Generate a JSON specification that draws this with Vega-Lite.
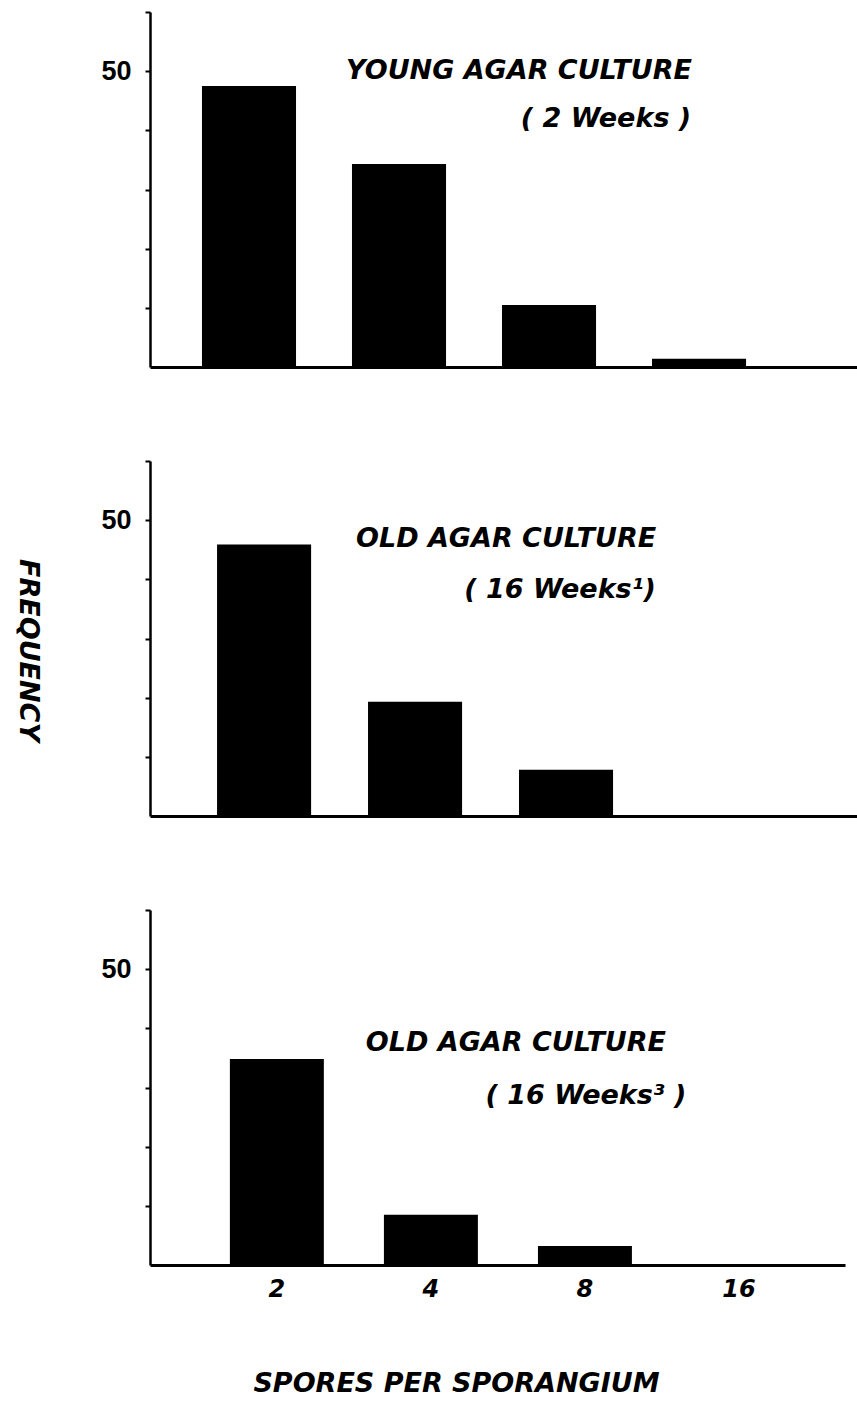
{
  "$schema": "https://vega.github.io/schema/vega-lite/v6.json",
  "background": "white",
  "padding": {"left": 12, "top": 11, "right": 0, "bottom": 5},
  "spacing": 93,
  "config": {
    "view": {"stroke": null},
    "axis": {"domainColor": "black", "tickColor": "black", "grid": false, "labelColor": "black", "titleColor": "black"},
    "axisY": {"domainWidth": 2.5, "tickWidth": 2, "tickSize": 5, "labelPadding": 14, "labelFont": "Liberation Sans", "labelFontWeight": "bold", "labelFontSize": 27},
    "axisX": {"domainWidth": 3, "ticks": false}
  },
  "vconcat": [
    {
      "width": 707, "height": 355,
      "layer": [
        {
          "data": {"values": [
            {"spores": "2", "frequency": 47.5},
            {"spores": "4", "frequency": 34.3},
            {"spores": "8", "frequency": 10.5},
            {"spores": "16", "frequency": 1.4}
          ]},
          "mark": {"type": "bar", "color": "black"},
          "encoding": {
            "x": {"field": "spores", "type": "ordinal", "sort": ["2", "4", "8", "16"],
                  "scale": {"paddingInner": 0.373, "paddingOuter": 0.543, "align": 0.319},
                  "axis": {"labels": false, "title": null}},
            "y": {"field": "frequency", "type": "quantitative",
                  "scale": {"domain": [0, 60], "nice": false},
                  "axis": {"values": [10, 20, 30, 40, 50, 60], "labelExpr": "datum.value == 50 ? '50' : ''", "title": null, "minExtent": 138, "maxExtent": 138}}
          }
        },
        {
          "data": {"values": [{"label": "YOUNG AGAR CULTURE"}]},
          "mark": {"type": "text", "font": "DejaVu Sans", "fontWeight": "bold", "fontStyle": "italic", "fontSize": 27, "align": "center", "baseline": "middle", "dx": 120, "color": "black"},
          "encoding": {"text": {"field": "label"}, "x": {"datum": "4", "type": "ordinal"}, "y": {"datum": 50, "type": "quantitative"}}
        },
        {
          "data": {"values": [{"label": "( 2 Weeks )"}]},
          "mark": {"type": "text", "font": "DejaVu Sans", "fontWeight": "bold", "fontStyle": "italic", "fontSize": 27, "align": "center", "baseline": "middle", "dx": 207, "color": "black"},
          "encoding": {"text": {"field": "label"}, "x": {"datum": "4", "type": "ordinal"}, "y": {"datum": 42, "type": "quantitative"}}
        }
      ]
    },
    {
      "width": 707, "height": 355,
      "layer": [
        {
          "data": {"values": [
            {"spores": "2", "frequency": 45.9},
            {"spores": "4", "frequency": 19.3},
            {"spores": "8", "frequency": 7.8},
            {"spores": "16", "frequency": 0}
          ]},
          "mark": {"type": "bar", "color": "black"},
          "encoding": {
            "x": {"field": "spores", "type": "ordinal", "sort": ["2", "4", "8", "16"],
                  "scale": {"paddingInner": 0.377, "paddingOuter": 0.53, "align": 0.419},
                  "axis": {"labels": false, "title": null}},
            "y": {"field": "frequency", "type": "quantitative",
                  "scale": {"domain": [0, 60], "nice": false},
                  "axis": {"values": [10, 20, 30, 40, 50, 60], "labelExpr": "datum.value == 50 ? '50' : ''", "title": "FREQUENCY", "titleAngle": 90, "titleFont": "DejaVu Sans", "titleFontWeight": "bold", "titleFontStyle": "italic", "titleFontSize": 27, "titlePadding": 103, "titleY": 189, "minExtent": 34, "maxExtent": 34}}
          }
        },
        {
          "data": {"values": [{"label": "OLD AGAR CULTURE"}]},
          "mark": {"type": "text", "font": "DejaVu Sans", "fontWeight": "bold", "fontStyle": "italic", "fontSize": 27, "align": "center", "baseline": "middle", "dx": 91, "color": "black"},
          "encoding": {"text": {"field": "label"}, "x": {"datum": "4", "type": "ordinal"}, "y": {"datum": 46.8, "type": "quantitative"}}
        },
        {
          "data": {"values": [{"label": "( 16 Weeks¹)"}]},
          "mark": {"type": "text", "font": "DejaVu Sans", "fontWeight": "bold", "fontStyle": "italic", "fontSize": 27, "align": "center", "baseline": "middle", "dx": 145, "color": "black"},
          "encoding": {"text": {"field": "label"}, "x": {"datum": "4", "type": "ordinal"}, "y": {"datum": 38.2, "type": "quantitative"}}
        }
      ]
    },
    {
      "width": 695, "height": 355,
      "layer": [
        {
          "data": {"values": [
            {"spores": "2", "frequency": 34.8},
            {"spores": "4", "frequency": 8.5},
            {"spores": "8", "frequency": 3.2},
            {"spores": "16", "frequency": 0}
          ]},
          "mark": {"type": "bar", "color": "black"},
          "encoding": {
            "x": {"field": "spores", "type": "ordinal", "sort": ["2", "4", "8", "16"],
                  "scale": {"paddingInner": 0.39, "paddingOuter": 0.451, "align": 0.575},
                  "axis": {"labelAngle": 0, "labelPadding": 12, "labelFont": "DejaVu Sans", "labelFontWeight": "bold", "labelFontStyle": "italic", "labelFontSize": 24,
                           "title": "SPORES PER SPORANGIUM", "titleFont": "DejaVu Sans", "titleFontWeight": "bold", "titleFontStyle": "italic", "titleFontSize": 27, "titleX": 306, "titleY": 105, "titleBaseline": "top"}},
            "y": {"field": "frequency", "type": "quantitative",
                  "scale": {"domain": [0, 60], "nice": false},
                  "axis": {"values": [10, 20, 30, 40, 50, 60], "labelExpr": "datum.value == 50 ? '50' : ''", "title": null, "minExtent": 138, "maxExtent": 138}}
          }
        },
        {
          "data": {"values": [{"label": "OLD AGAR CULTURE"}]},
          "mark": {"type": "text", "font": "DejaVu Sans", "fontWeight": "bold", "fontStyle": "italic", "fontSize": 27, "align": "center", "baseline": "middle", "dx": 85, "color": "black"},
          "encoding": {"text": {"field": "label"}, "x": {"datum": "4", "type": "ordinal"}, "y": {"datum": 37.5, "type": "quantitative"}}
        },
        {
          "data": {"values": [{"label": "( 16 Weeks³ )"}]},
          "mark": {"type": "text", "font": "DejaVu Sans", "fontWeight": "bold", "fontStyle": "italic", "fontSize": 27, "align": "center", "baseline": "middle", "dx": 155, "color": "black"},
          "encoding": {"text": {"field": "label"}, "x": {"datum": "4", "type": "ordinal"}, "y": {"datum": 28.6, "type": "quantitative"}}
        }
      ]
    }
  ]
}
